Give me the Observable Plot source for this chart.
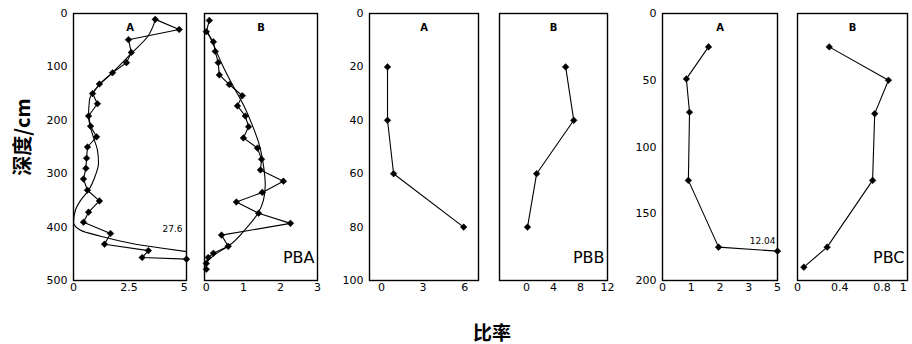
<!DOCTYPE html>
<html><head><meta charset="utf-8">
<script src="https://cdn.jsdelivr.net/npm/d3@7"></script>
<script src="https://cdn.jsdelivr.net/npm/@observablehq/plot@0.6"></script>
<style>
body{margin:0;background:#fff;}
#chart{position:relative;width:912px;height:344px;background:#fff;overflow:hidden;}
.panel{position:absolute;top:0;}
#ytitle{position:absolute;left:21px;top:137px;line-height:1;transform:translate(-50%,-50%) rotate(-90deg);font:bold 20px "Noto Sans CJK SC",sans-serif;white-space:nowrap;color:#000;}
#xtitle{position:absolute;left:492px;top:331px;line-height:1;transform:translate(-50%,-50%);font:bold 19px "Noto Sans CJK SC",sans-serif;white-space:nowrap;color:#000;}
</style></head><body>
<div id="chart"><div id="ytitle">深度/cm</div><div id="xtitle">比率</div></div>
<script>
// ---- PBA, profile A (ratio vs depth, cm) ----
const pbaADepth = [11,30,49,73,92,111,132,150,169,192,211,231,250,271,290,310,331,351,372,391,412,432,444,457,460];
const pbaAVal   = [3.69,4.77,2.48,2.61,2.39,1.76,1.17,0.86,1.08,0.68,0.77,1.04,0.63,0.59,0.56,0.45,0.63,1.17,0.68,0.45,1.67,1.40,3.38,3.10,27.6];
const pbaAFitDepth = [11,43,73,111,139,162,192,227,256,280,303,331,350,368,391,406,417,432,440,446];
const pbaAFitVal   = [3.7,3.35,2.65,1.75,1.05,0.72,0.68,0.86,1.08,1.13,0.99,0.68,0.32,0.09,0,0.32,1.22,2.8,4.1,5.1];
// ---- PBA, profile B ----
const pbaBDepth = [13,34,53,71,92,115,133,154,173,192,212,233,252,273,293,314,335,353,374,393,415,436,449,457,468,479];
const pbaBVal   = [0.08,0.0,0.19,0.24,0.32,0.35,0.62,0.97,0.84,1.05,1.14,1.0,1.38,1.49,1.46,2.08,1.51,0.81,1.41,2.27,0.41,0.59,0.19,0.05,0.0,0.0];
const pbaBFitDepth = [30,58,96,133,171,209,246,284,321,350,372,402,436,451,466];
const pbaBFitVal   = [0.0,0.19,0.43,0.70,1.0,1.24,1.43,1.54,1.59,1.54,1.41,1.08,0.59,0.24,0.0];
// ---- PBB ----
const pbbDepth = [20,40,60,80];
const pbbA = [0.43,0.43,0.87,5.93];
const pbbB = [5.8,7.0,1.5,0.15];
// ---- PBC ----
const pbcADepth = [25,49,74,125,175,178];
const pbcA = [1.6,0.83,0.94,0.9,1.95,12.04];
const pbcBDepth = [25,50,75,125,175,190];
const pbcB = [0.30,0.86,0.73,0.71,0.28,0.06];
// ---- axis ticks / labels ----
const depthTicks500 = [0,100,200,300,400,500];
const depthTicks100 = [0,20,40,60,80,100];
const depthTicks200 = [0,50,100,150,200];
const pbaATicks = [0,2.5,5], pbaALabels = ["0","2.5","5"];
const pbaBTicks = [0,1,2,3], pbaBLabels = ["0","1","2","3"];
const pbbATicks = [0,3,6], pbbALabels = ["0","3","6"];
const pbbBTicks = [0,4,8,12], pbbBLabels = ["0","4","8","12"];
const pbcATicks = [0,1,2,3,4], pbcALabels = ["0","1","2","3","5"];
const pbcBTicks = [0,0.4,0.8,1], pbcBLabels = ["0","0.4","0.8","1"];
const profileNames = ["A","B"];
const siteNames = ["PBA","PBB","PBC"];
const offNotes = {pbaA: "27.6", pbcA: "12.04"};

const zip = (d, v) => d.map((y, i) => ({depth: y, v: v[i]}));
const chart = document.getElementById("chart");

function panel({frameLeft, frameW, xDomain, xTicks, xLabels, yDomain, yTicks, showY, series, fit, name, site, note}) {
  const ml = 42, mr = 12;
  const fmt = new Map(xTicks.map((t, i) => [t, xLabels[i]]));
  const data = series;
  const marks = [
    Plot.frame({stroke: "#000", strokeWidth: 1.4}),
  ];
  if (fit) marks.push(Plot.line(fit, {x: "v", y: "depth", curve: "monotone-y", stroke: "#000", strokeWidth: 1.1}));
  marks.push(Plot.line(data, {x: "v", y: "depth", stroke: "#000", strokeWidth: 1.1}));
  marks.push(Plot.dot(data, {x: "v", y: "depth", symbol: "diamond2", r: 3, fill: "#000", stroke: "#000", strokeWidth: 0.5}));
  marks.push(Plot.text([name], {frameAnchor: "top", dy: 10, text: d => d, fontSize: 10, fontWeight: "bold"}));
  if (site) marks.push(Plot.text([site], {frameAnchor: "bottom-right", dx: -3, dy: -18, text: d => d, fontSize: 16, textAnchor: "end", fontFamily: "DejaVu Sans"}));
  if (note) {
    const last = data[data.length - 1];
    marks.push(Plot.text([last], {x: "v", y: "depth", text: () => note.text, dx: note.dx, dy: note.dy, textAnchor: "end", fontSize: 9}));
  }
  const p = Plot.plot({
    width: ml + frameW + mr, height: 300,
    marginLeft: ml, marginRight: mr, marginTop: 13, marginBottom: 20,
    style: {background: "transparent", overflow: "visible", fontFamily: "DejaVu Sans", fontSize: "11px", color: "#000"},
    x: {domain: xDomain, clamp: true, ticks: xTicks, tickFormat: d => fmt.get(d), tickSize: 0, tickPadding: 3, label: null},
    y: {domain: yDomain, reverse: true, clamp: true, ticks: yTicks, tickSize: 0, tickPadding: 6, label: null, axis: showY ? "left" : null},
    marks
  });
  p.classList.add("panel");
  p.style.left = (frameLeft - ml) + "px";
  chart.appendChild(p);
}

panel({frameLeft: 73, frameW: 113, xDomain: [0, 5.1], xTicks: pbaATicks, xLabels: pbaALabels, yDomain: [0, 500], yTicks: depthTicks500, showY: true,
  series: zip(pbaADepth, pbaAVal), fit: zip(pbaAFitDepth, pbaAFitVal), name: profileNames[0], note: {text: offNotes.pbaA, dx: -4, dy: -30}});
panel({frameLeft: 204, frameW: 113, xDomain: [-0.05, 3], xTicks: pbaBTicks, xLabels: pbaBLabels, yDomain: [0, 500], yTicks: depthTicks500, showY: false,
  series: zip(pbaBDepth, pbaBVal), fit: zip(pbaBFitDepth, pbaBFitVal), name: profileNames[1], site: siteNames[0]});
panel({frameLeft: 369, frameW: 109, xDomain: [-0.87, 7.0], xTicks: pbbATicks, xLabels: pbbALabels, yDomain: [0, 100], yTicks: depthTicks100, showY: true,
  series: zip(pbbDepth, pbbA), name: profileNames[0]});
panel({frameLeft: 499, frameW: 108, xDomain: [-4, 12], xTicks: pbbBTicks, xLabels: pbbBLabels, yDomain: [0, 100], yTicks: depthTicks100, showY: false,
  series: zip(pbbDepth, pbbB), name: profileNames[1], site: siteNames[1]});
panel({frameLeft: 662, frameW: 115, xDomain: [0, 4], xTicks: pbcATicks, xLabels: pbcALabels, yDomain: [0, 200], yTicks: depthTicks200, showY: true,
  series: zip(pbcADepth, pbcA), name: profileNames[0], note: {text: offNotes.pbcA, dx: -2, dy: -10}});
panel({frameLeft: 797, frameW: 110, xDomain: [0, 1.04], xTicks: pbcBTicks, xLabels: pbcBLabels, yDomain: [0, 200], yTicks: depthTicks200, showY: false,
  series: zip(pbcBDepth, pbcB), name: profileNames[1], site: siteNames[2]});
</script>
</body></html>
